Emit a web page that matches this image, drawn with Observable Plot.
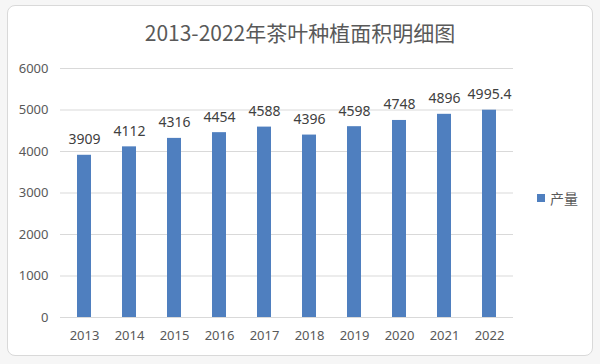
<!DOCTYPE html>
<html>
<head>
<meta charset="utf-8">
<script src="https://cdn.jsdelivr.net/npm/d3@7"></script>
<script src="https://cdn.jsdelivr.net/npm/@observablehq/plot@0.6"></script>
<style>
  html, body { margin: 0; padding: 0; background: #f4f4f4; }
  #wrap { position: relative; width: 600px; height: 364px; overflow: hidden; background: #f6f6f6; }
  #card { position: absolute; left: 7px; top: 5px; width: 586px; height: 351px; background: #fff;
          border: 1px solid #d9d9d9; border-radius: 8px; box-sizing: border-box; }
  #title { position: absolute; left: 0; top: 17px; width: 600px; text-align: center;
           font-family: "Noto Sans CJK SC", "Noto Sans", sans-serif; font-size: 21px; color: #595959; }
  #legend { position: absolute; left: 537px; top: 188px; font-family: "Noto Sans CJK SC", sans-serif;
            font-size: 14px; color: #595959; display: flex; align-items: center; gap: 5px; }
  #legend span.sw { display: inline-block; width: 8px; height: 8px; background: #4f7fbf; }
  #chart { position: absolute; left: 0; top: 0; }
</style>
</head>
<body>
<div id="wrap">
  <div id="card"></div>
  <div id="chart"></div>
  <div id="title">2013-2022年茶叶种植面积明细图</div>
  <div id="legend"><span class="sw"></span><span>产量</span></div>
</div>
<script>
const years = ["2013","2014","2015","2016","2017","2018","2019","2020","2021","2022"];
const values = [3909, 4112, 4316, 4454, 4588, 4396, 4598, 4748, 4896, 4995.4];
const labels = ["3909","4112","4316","4454","4588","4396","4598","4748","4896","4995.4"];
const yTicks = [0, 1000, 2000, 3000, 4000, 5000, 6000];

const data = years.map((y, i) => ({year: y, value: values[i], label: labels[i]}));

const chart = Plot.plot({
  width: 600,
  height: 364,
  marginLeft: 60,
  marginRight: 87,
  marginTop: 68,
  marginBottom: 47,
  style: {background: "transparent", fontFamily: "'Noto Sans', sans-serif", fontSize: "13px", color: "#595959"},
  x: {domain: years, paddingInner: 0.69, paddingOuter: 0.31, label: null},
  y: {domain: [0, 6000], label: null},
  marks: [
    Plot.gridY(yTicks, {stroke: "#d9d9d9", strokeOpacity: 1}),
    Plot.barY(data, {x: "year", y: "value", fill: "#4f7fbf"}),
    Plot.text(data, {x: "year", y: "value", text: "label", lineAnchor: "bottom", dy: -11,
                     fill: "#404040", fontSize: 14}),
    Plot.axisX({tickSize: 0, tickPadding: 13, fill: "#595959", fontSize: 13}),
    Plot.axisY(yTicks, {tickSize: 0, tickPadding: 12, fill: "#595959", fontSize: 13, tickFormat: d => String(d)})
  ]
});
document.getElementById("chart").appendChild(chart);
</script>
</body>
</html>
